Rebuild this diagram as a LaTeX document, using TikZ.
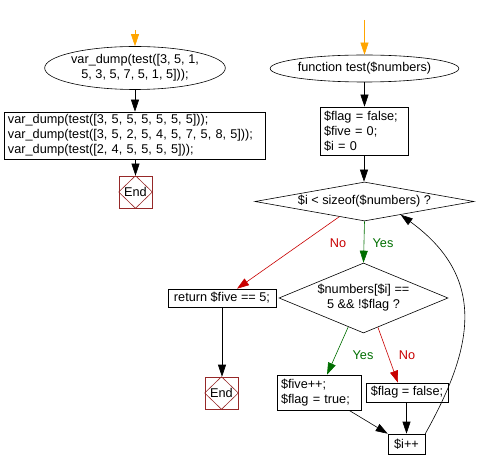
\documentclass[tikz,border=0pt]{standalone}
\usepackage{fontspec}
\setmainfont{Liberation Sans}
\usetikzlibrary{arrows.meta,shapes.geometric,calc}
\definecolor{orng}{RGB}{255,165,0}
\definecolor{grn}{RGB}{0,110,0}
\definecolor{rd}{RGB}{200,0,0}
\definecolor{endc}{RGB}{150,40,40}
\begin{document}
\begin{tikzpicture}[x=1pt,y=-1pt,
  every node/.style={font=\fontsize{12.7}{15}\selectfont, inner sep=0pt},
  arr/.style={-{Triangle[length=12pt,width=8pt]}, line width=0.6pt},
  oval/.style={draw, ellipse, line width=0.6pt},
  box/.style={draw, rectangle, line width=0.6pt},
  dia/.style={draw, diamond, line width=0.6pt},
  endbox/.style={draw=endc, rectangle, minimum width=33pt, minimum height=32pt, line width=0.6pt},
  lbl/.style={font=\fontsize{12.7}{15}\selectfont}
]
\useasboundingbox (0,0) rectangle (482,470);
% left column
\coordinate (s1) at (135,30);
\node[oval, minimum width=154pt, minimum height=43pt, align=center] (e1) at (135,68)
  {var\_dump(test([3, 5, 1,\\5, 3, 5, 7, 5, 1, 5]));};
\node[box, minimum width=261pt, minimum height=47pt, text width=253pt, align=left] (b1) at (134.5,135.5)
  {var\_dump(test([3, 5, 5, 5, 5, 5, 5]));\\var\_dump(test([3, 5, 2, 5, 4, 5, 7, 5, 8, 5]));\\var\_dump(test([2, 4, 5, 5, 5, 5]));};
\node[endbox] (end1) at (135.5,192) {End};
\draw[endc, line width=0.6pt] (end1.north) -- (end1.east) -- (end1.south) -- (end1.west) -- cycle;
% right column
\coordinate (s2) at (364.5,20);
\node[oval, minimum width=153pt, minimum height=27pt] (e2) at (364.5,68.5) {function test(\$numbers)};
\node[box, minimum width=88pt, minimum height=48pt, text width=80pt, align=left] (b2) at (364,131)
  {\$flag = false;\\\$five = 0;\\\$i = 0};
\node[dia, minimum width=219pt, minimum height=39pt, aspect=5.6] (d1) at (364.5,201.5) {\$i < sizeof(\$numbers) ?};
\node[box, minimum width=108pt, minimum height=18pt] (ret) at (222,298) {return \$five == 5;};
\node[dia, minimum width=169pt, minimum height=70pt, aspect=2.4, align=center] (d2) at (363.5,298)
  {\$numbers[\$i] ==\\5 \&\& !\$flag ?};
\node[endbox] (end2) at (221.5,393) {End};
\draw[endc, line width=0.6pt] (end2.north) -- (end2.east) -- (end2.south) -- (end2.west) -- cycle;
\node[box, minimum width=84pt, minimum height=35pt, text width=76pt, align=left] (five) at (319,392.5)
  {\$five++;\\\$flag = true;};
\node[box, minimum width=82pt, minimum height=19pt] (flag) at (407,392.5) {\$flag = false;};
\node[box, minimum width=37pt, minimum height=20pt] (inc) at (406.5,444) {\$i++};
% connectors
\draw[arr, orng] (s1) -- (e1.north);
\draw[arr] (e1.south) -- (b1.north -| e1.south);
\draw[arr] (b1.south -| end1.north) -- (end1.north);
\draw[arr, orng] (s2) -- (e2.north);
\draw[arr] (e2.south) -- (b2.north -| e2.south);
\draw[arr] (b2.south) -- (d1.north -| b2.south);
\draw[arr, rd] ($(d1.south)!0.23!(d1.west)$) -- ($(ret.north)+(15,0)$);
\draw[arr, grn] (d1.south) -- (d2.north);
\draw[arr] (ret.south) -- (end2.north -| ret.south);
\draw[arr, grn] ($(d2.south)!0.18!(d2.west)$) -- ($(five.north)+(8,0)$);
\draw[arr, rd] ($(d2.south)!0.17!(d2.east)$) -- ($(flag.north)+(-9,0)$);
\draw[arr] ($(five.south)+(30,0)$) -- (inc.north west);
\draw[arr] (flag.south -| inc.north) -- (inc.north);
\draw[arr] (inc.north east) .. controls +(47,-84) and +(88,64) .. ($(d1.south)!0.33!(d1.east)$);
% labels
\node[lbl, text=rd] (l1) at (338,243) {No};
\node[lbl, text=grn] (l2) at (383,243) {Yes};
\node[lbl, text=grn] (l3) at (363,355) {Yes};
\node[lbl, text=rd] (l4) at (407,355) {No};
\end{tikzpicture}
\end{document}
